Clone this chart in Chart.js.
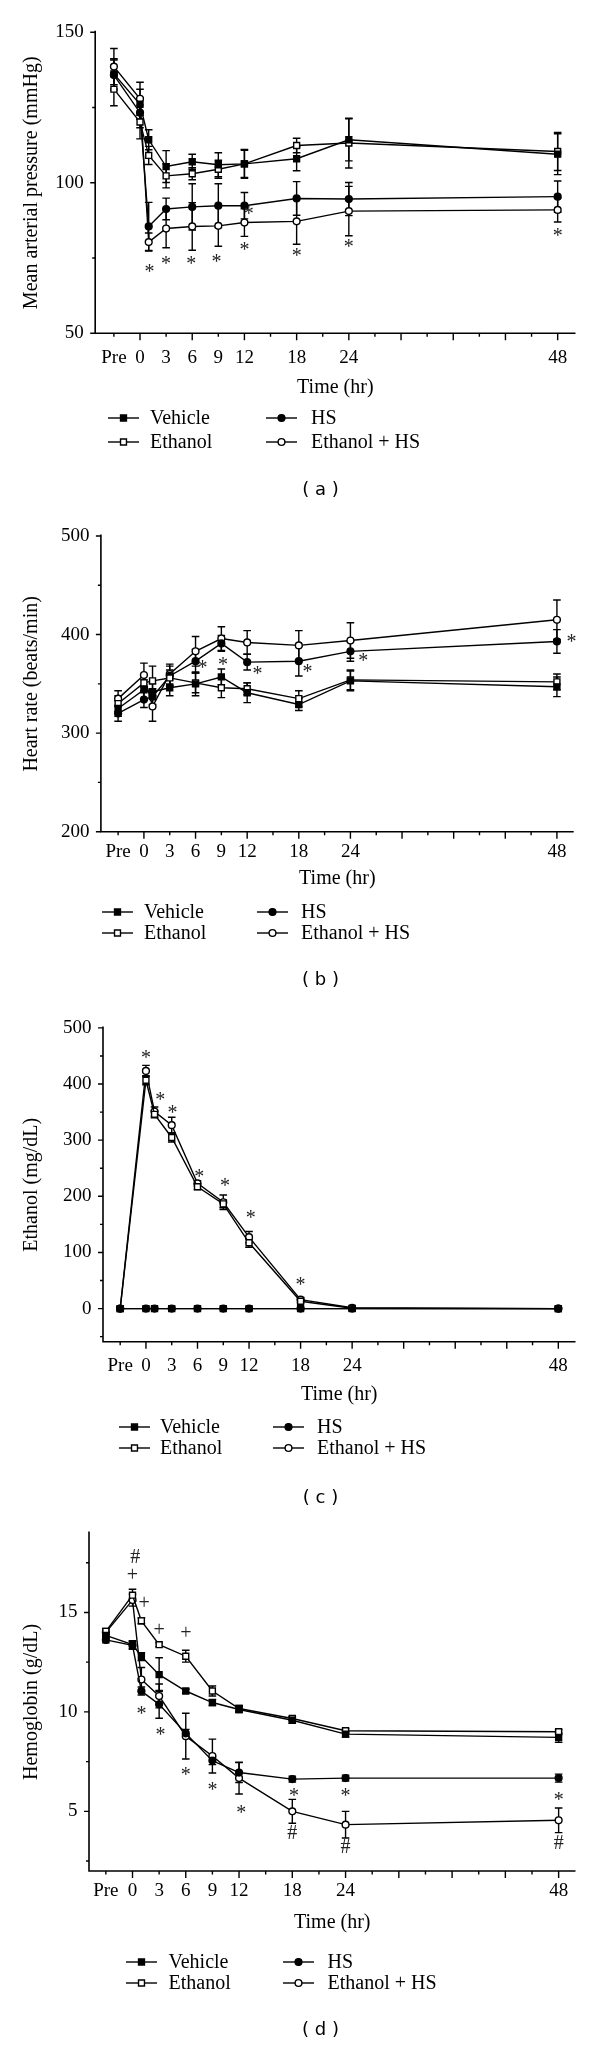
<!DOCTYPE html>
<html>
<head>
<meta charset="utf-8">
<script src="https://cdn.jsdelivr.net/npm/chart.js@4.4.0/dist/chart.umd.min.js"></script>
<style>
  html, body { margin: 0; padding: 0; background: #fff; }
  #wrap { position: relative; width: 600px; height: 2047px; }
  .panel { position: absolute; left: 0; width: 600px; }
</style>
</head>
<body>
<div id="wrap">
  <div class="panel" style="top:0px"><canvas id="chartA" width="600" height="505"></canvas></div>
  <div class="panel" style="top:505px"><canvas id="chartB" width="600" height="500"></canvas></div>
  <div class="panel" style="top:1005px"><canvas id="chartC" width="600" height="505"></canvas></div>
  <div class="panel" style="top:1510px"><canvas id="chartD" width="600" height="537"></canvas></div>
</div>
<script>
// time points (Pre is plotted at -3 h)
const hours = [-3, 0, 1, 3, 6, 9, 12, 18, 24, 48];
const hourLabels = [-3, 0, 3, 6, 9, 12, 18, 24, 48];
const seriesNames = ["Vehicle", "Ethanol", "HS", "Ethanol + HS"];

// (a) mean arterial pressure, mmHg
const mapVehicle = [136.2, 126.1, 114.3, 105.4, 107.0, 106.0, 106.3, 108.0, 114.3, 109.5];
const mapEthanol = [131.1, 120.2, 109.1, 102.3, 103.0, 104.5, 106.3, 112.4, 113.2, 110.4];
const mapHS = [135.8, 123.3, 85.5, 91.3, 92.0, 92.4, 92.4, 94.8, 94.6, 95.4];
const mapEthHS = [138.6, 127.9, 80.3, 84.8, 85.5, 85.7, 86.8, 87.2, 90.6, 91.0];
const mapVehicleErr = [5, 5, 3.3, 5.3, 2.5, 4, 4.5, 4, 7, 6.8];
const mapEthanolErr = [5.5, 5.6, 3, 4, 2, 3, 4.8, 2.4, 8.3, 6.3];
const mapHSErr = [5, 5, 8, 3.6, 7.7, 7.3, 4.4, 5.6, 5.5, 5.2];
const mapEthHSErr = [6, 5.5, 3, 6.4, 7.9, 6.8, 4.6, 7.6, 8.2, 4];
const mapTicks = [50, 100, 150];
const mapMinor = [75, 125];
const mapMarks = [
  { x: 1.1, y: 71.7, t: "*" }, { x: 3, y: 74.2, t: "*" }, { x: 5.9, y: 74.2, t: "*" },
  { x: 8.8, y: 75, t: "*" }, { x: 12, y: 79.1, t: "*" }, { x: 12.5, y: 91, t: "*" },
  { x: 18, y: 76.9, t: "*" }, { x: 24, y: 80, t: "*" }, { x: 48, y: 83.5, t: "*" }
];

// (b) heart rate, beats/min
const hrVehicle = [325, 344, 342, 346, 350, 357, 341, 329, 353, 347];
const hrEthanol = [330, 351, 353, 356, 351, 346, 345, 335, 354, 352];
const hrHS = [320, 334, 337, 358, 373, 391, 372, 373, 383, 393];
const hrEthHS = [335, 359, 327, 360, 383, 396, 392, 389, 394, 415];
const hrVehicleErr = [8, 10, 8, 8, 12, 8, 10, 6, 10, 10];
const hrEthanolErr = [8, 8, 15, 8, 10, 10, 6, 8, 10, 8];
const hrHSErr = [8, 8, 8, 10, 12, 8, 8, 15, 10, 12];
const hrEthHSErr = [8, 12, 15, 10, 15, 12, 12, 15, 18, 20];
const hrTicks = [200, 300, 400, 500];
const hrMinor = [250, 350, 450];
const hrMarks = [
  { x: 6.8, y: 370, t: "*" }, { x: 9.2, y: 373, t: "*" }, { x: 13.2, y: 364, t: "*" },
  { x: 19.0, y: 366, t: "*" }, { x: 25.5, y: 377, t: "*" }, { x: 49.7, y: 396.6, t: "*" }
];

// (c) blood ethanol, mg/dL
const etVehicle = [0, 0, 0, 0, 0, 0, 0, 0, 0, 0];
const etEthanol = [0, 406.7, 346, 304.8, 217, 186.5, 117.2, 13, 0.5, 0];
const etHS = [0, 0, 0, 0, 0, 0, 0, 0, 0, 0];
const etEthHS = [0, 423.3, 351, 326.8, 223, 189.4, 127.2, 16, 1.5, 0];
const etVehicleErr = [0, 0, 0, 0, 0, 0, 0, 0, 0, 0];
const etEthanolErr = [0, 8, 6, 8, 5, 7, 8, 3, 0, 0];
const etHSErr = [0, 0, 0, 0, 0, 0, 0, 0, 0, 0];
const etEthHSErr = [0, 10, 8, 14, 5, 13, 10, 4, 0, 0];
const etTicks = [0, 100, 200, 300, 400, 500];
const etMinor = [-50, 50, 150, 250, 350, 450];
const etMarks = [
  { x: 0, y: 454, t: "*" }, { x: 1.65, y: 379, t: "*" }, { x: 3.1, y: 356, t: "*" },
  { x: 6.2, y: 242, t: "*" }, { x: 9.2, y: 225, t: "*" }, { x: 12.2, y: 169, t: "*" },
  { x: 18, y: 49, t: "*" }
];

// (d) hemoglobin, g/dL
const hbVehicle = [13.85, 13.38, 12.78, 11.87, 11.05, 10.47, 10.12, 9.58, 8.88, 8.72];
const hbEthanol = [14.05, 15.87, 14.58, 13.38, 12.8, 11.05, 10.17, 9.67, 9.05, 9.0];
const hbHS = [13.62, 13.35, 11.05, 10.38, 8.92, 7.55, 6.95, 6.62, 6.67, 6.67];
const hbEthHS = [14.0, 15.62, 11.63, 10.8, 8.78, 7.78, 6.67, 5.0, 4.33, 4.55];
const hbVehicleErr = [0.15, 0.2, 0.2, 0.85, 0.1, 0.15, 0.15, 0.15, 0.15, 0.25];
const hbEthanolErr = [0.15, 0.3, 0.15, 0.1, 0.3, 0.25, 0.15, 0.1, 0.1, 0.1];
const hbHSErr = [0.15, 0.2, 0.2, 0.7, 0.2, 0.2, 0.5, 0.15, 0.15, 0.2];
const hbEthHSErr = [0.15, 0.3, 0.6, 0.6, 1.15, 0.85, 0.8, 0.6, 0.67, 0.62];
const hbTicks = [5, 10, 15];
const hbMinor = [2.5, 7.5, 12.5, 17.5];
const hbMarks = [
  { x: 0.3, y: 17.8, t: "#" }, { x: 0, y: 16.83, t: "+" }, { x: 1.3, y: 15.4, t: "+" },
  { x: 3, y: 14.08, t: "+" }, { x: 6, y: 13.92, t: "+" },
  { x: 1, y: 10.1, t: "*" }, { x: 3.15, y: 9.03, t: "*" }, { x: 6, y: 7.03, t: "*" },
  { x: 9, y: 6.28, t: "*" }, { x: 12.25, y: 5.1, t: "*" }, { x: 18.2, y: 5.95, t: "*" },
  { x: 24, y: 5.95, t: "*" }, { x: 48, y: 5.78, t: "*" },
  { x: 18, y: 3.92, t: "#" }, { x: 24, y: 3.22, t: "#" }, { x: 48, y: 3.42, t: "#" }
];

const SERIF = '"Liberation Serif", "Times New Roman", serif';
const SANS = '"DejaVu Sans", Arial, sans-serif';
const styles = [
  { pointStyle: "rect", radius: 4.2, fill: "#000" },
  { pointStyle: "rect", radius: 4.2, fill: "#fff" },
  { pointStyle: "circle", radius: 3.4, fill: "#000" },
  { pointStyle: "circle", radius: 3.4, fill: "#fff" }
];

function drawMarker(ctx, st, x, y) {
  ctx.beginPath();
  if (st.pointStyle === "rect") {
    const h = st.radius * Math.SQRT1_2;
    ctx.rect(x - h, y - h, 2 * h, 2 * h);
  } else {
    ctx.arc(x, y, st.radius, 0, Math.PI * 2);
  }
  ctx.fillStyle = st.fill;
  ctx.fill();
  ctx.lineWidth = 1.4;
  ctx.strokeStyle = "#000";
  ctx.stroke();
}

// error bars, axes, tick marks, significance marks, legend and caption
const figurePlugin = {
  id: "figure",
  beforeDatasetsDraw(chart) {
    const ctx = chart.ctx, xs = chart.scales.x, ys = chart.scales.y;
    ctx.save();
    ctx.strokeStyle = "#000";
    ctx.lineWidth = 1.4;
    chart.data.datasets.forEach(ds => {
      ds.data.forEach((p, i) => {
        const e = ds.errors[i];
        if (!e) return;
        const x = xs.getPixelForValue(p.x);
        const y1 = ys.getPixelForValue(p.y - e);
        const y2 = ys.getPixelForValue(p.y + e);
        ctx.beginPath();
        ctx.moveTo(x, y1); ctx.lineTo(x, y2);
        ctx.moveTo(x - 3.8, y1); ctx.lineTo(x + 3.8, y1);
        ctx.moveTo(x - 3.8, y2); ctx.lineTo(x + 3.8, y2);
        ctx.stroke();
      });
    });
    ctx.restore();
  },
  afterDraw(chart) {
    const o = chart.options.plugins.figure;
    const ctx = chart.ctx, xs = chart.scales.x, ys = chart.scales.y;
    const { left, right, top, bottom } = chart.chartArea;
    ctx.save();
    ctx.strokeStyle = "#000";
    ctx.lineWidth = 1.6;
    ctx.beginPath();
    ctx.moveTo(left, top - 1.5);
    ctx.lineTo(left, bottom);
    ctx.lineTo(right, bottom);
    ctx.stroke();

    ctx.lineWidth = 1.4;
    ctx.beginPath();
    o.yTicks.forEach(v => {
      const y = ys.getPixelForValue(v);
      ctx.moveTo(left - 5, y); ctx.lineTo(left, y);
    });
    o.yMinor.forEach(v => {
      const y = ys.getPixelForValue(v);
      ctx.moveTo(left - 3, y); ctx.lineTo(left, y);
    });
    for (let h = 0; h <= 48; h += 6) {
      const x = xs.getPixelForValue(h);
      ctx.moveTo(x, bottom); ctx.lineTo(x, bottom + 7);
    }
    for (let h = -3; h <= 45; h += 6) {
      const x = xs.getPixelForValue(h);
      ctx.moveTo(x, bottom); ctx.lineTo(x, bottom + 3.5);
    }
    ctx.stroke();

    // significance marks
    ctx.fillStyle = "#222";
    ctx.font = "20px " + SERIF;
    ctx.textAlign = "center";
    ctx.textBaseline = "alphabetic";
    const lift = { "*": 0.5, "+": 0.25, "#": 0.33 };
    o.marks.forEach(m => {
      const x = xs.getPixelForValue(m.x);
      const y = ys.getPixelForValue(m.y);
      ctx.fillText(m.t, x, y + 20 * lift[m.t]);
    });

    // legend, two columns
    const lg = o.legend;
    ctx.font = "20px " + SERIF;
    ctx.textAlign = "left";
    ctx.textBaseline = "middle";
    chart.data.datasets.forEach((ds, i) => {
      const col = i < 2 ? 0 : 1;
      const row = i % 2;
      const x0 = lg.lineX[col], y = lg.rowY[row];
      ctx.strokeStyle = "#000";
      ctx.lineWidth = 1.4;
      ctx.beginPath();
      ctx.moveTo(x0, y); ctx.lineTo(x0 + 31, y);
      ctx.stroke();
      drawMarker(ctx, styles[i], x0 + 15.5, y);
      ctx.fillStyle = "#000";
      ctx.fillText(ds.label, lg.textX[col], y + 1);
    });

    ctx.font = "18px " + SANS;
    ctx.textAlign = "center";
    ctx.fillStyle = "#000";
    ctx.fillText(o.caption, 320.5, o.captionY);
    ctx.restore();
  }
};

function buildPanel(id, p) {
  const datasets = p.series.map((vals, i) => ({
    label: seriesNames[i],
    data: hours.map((h, k) => ({ x: h, y: vals[k] })),
    errors: p.errors[i],
    borderColor: "#000",
    borderWidth: 1.4,
    pointStyle: styles[i].pointStyle,
    pointRadius: styles[i].radius,
    pointHoverRadius: styles[i].radius,
    pointBackgroundColor: styles[i].fill,
    pointBorderColor: "#000",
    pointBorderWidth: 1.4,
    tension: 0,
    fill: false
  }));
  const canvas = document.getElementById(id);
  const H = canvas.height;
  const xAxisH = 80;
  return new Chart(canvas, {
    type: "line",
    data: { datasets },
    plugins: [figurePlugin],
    options: {
      responsive: false,
      animation: false,
      events: [],
      layout: {
        autoPadding: false,
        padding: { left: 0, top: p.area.top, right: 600 - p.area.right, bottom: H - p.area.bottom - xAxisH }
      },
      plugins: {
        legend: { display: false },
        tooltip: { enabled: false },
        figure: {
          yTicks: p.yTicks, yMinor: p.yMinor, marks: p.marks,
          legend: p.legend, caption: p.caption, captionY: p.captionY
        }
      },
      scales: {
        x: {
          type: "linear",
          min: p.xRange[0],
          max: p.xRange[1],
          afterBuildTicks: s => { s.ticks = hourLabels.map(v => ({ value: v })); },
          afterFit: s => { s.height = xAxisH; },
          grid: { display: false, drawTicks: false },
          border: { display: false },
          ticks: {
            autoSkip: false, maxRotation: 0, padding: p.xTickPad, color: "#000",
            font: { family: SERIF, size: 19 },
            callback: v => (v === -3 ? "Pre" : String(v))
          },
          title: {
            display: true, text: "Time (hr)", color: "#000",
            font: { family: SERIF, size: 20 },
            padding: { top: 0, bottom: p.xTitlePad }
          }
        },
        y: {
          type: "linear",
          min: p.yRange[0],
          max: p.yRange[1],
          afterBuildTicks: s => { s.ticks = p.yTicks.map(v => ({ value: v })); },
          afterFit: s => { s.width = p.area.left; },
          grid: { display: false, drawTicks: false },
          border: { display: false },
          ticks: { padding: 11.5, color: "#000", font: { family: SERIF, size: 19 } },
          title: {
            display: true, text: p.yTitle, color: "#000",
            font: { family: SERIF, size: 20 },
            padding: { top: 19.5, bottom: 0 }
          }
        }
      }
    }
  });
}

buildPanel("chartA", {
  series: [mapVehicle, mapEthanol, mapHS, mapEthHS],
  errors: [mapVehicleErr, mapEthanolErr, mapHSErr, mapEthHSErr],
  yTicks: mapTicks, yMinor: mapMinor, marks: mapMarks,
  yRange: [50, 150], xRange: [-5.15, 50.05],
  area: { left: 95.2, top: 32.3, right: 575.5, bottom: 333.3 },
  xTickPad: 13, xTitlePad: 13.3,
  yTitle: "Mean arterial pressure (mmHg)",
  legend: { lineX: [108, 266], textX: [150, 311], rowY: [418, 442] },
  caption: "( a )", captionY: 490
});

buildPanel("chartB", {
  series: [hrVehicle, hrEthanol, hrHS, hrEthHS],
  errors: [hrVehicleErr, hrEthanolErr, hrHSErr, hrEthHSErr],
  yTicks: hrTicks, yMinor: hrMinor, marks: hrMarks,
  yRange: [200, 500], xRange: [-5.0, 49.95],
  area: { left: 100.9, top: 31, right: 573.7, bottom: 326.7 },
  xTickPad: 9, xTitlePad: 20.7,
  yTitle: "Heart rate (beats/min)",
  legend: { lineX: [102, 257], textX: [144, 301], rowY: [407, 428] },
  caption: "( b )", captionY: 475
});

buildPanel("chartC", {
  series: [etVehicle, etEthanol, etHS, etEthHS],
  errors: [etVehicleErr, etEthanolErr, etHSErr, etEthHSErr],
  yTicks: etTicks, yMinor: etMinor, marks: etMarks,
  yRange: [-59, 500], xRange: [-5.0, 50.0],
  area: { left: 103, top: 21.7, right: 575.5, bottom: 336.7 },
  xTickPad: 13, xTitlePad: 14.7,
  yTitle: "Ethanol (mg/dL)",
  legend: { lineX: [119, 273], textX: [160, 317], rowY: [422, 443] },
  caption: "( c )", captionY: 493
});

buildPanel("chartD", {
  series: [hbVehicle, hbEthanol, hbHS, hbEthHS],
  errors: [hbVehicleErr, hbEthanolErr, hbHSErr, hbEthHSErr],
  yTicks: hbTicks, yMinor: hbMinor, marks: hbMarks,
  yRange: [2, 19], xRange: [-4.9, 49.9],
  area: { left: 89, top: 22.7, right: 575.5, bottom: 361 },
  xTickPad: 9, xTitlePad: 16.3,
  yTitle: "Hemoglobin (g/dL)",
  legend: { lineX: [126, 283], textX: [168.5, 327.5], rowY: [452, 473] },
  caption: "( d )", captionY: 520
});
</script>
</body>
</html>
